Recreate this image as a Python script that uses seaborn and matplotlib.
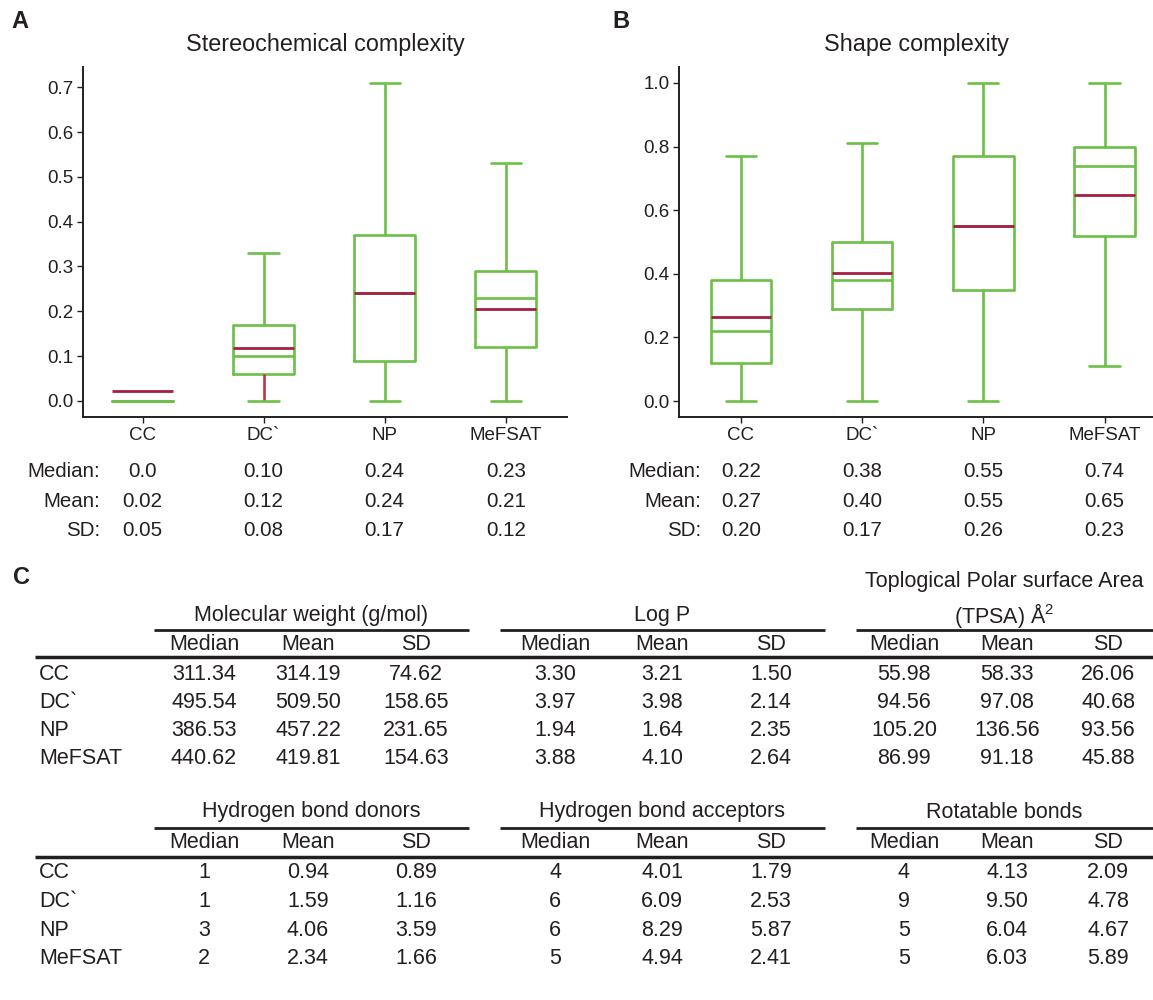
import matplotlib
matplotlib.use("Agg")
import matplotlib.pyplot as plt
import matplotlib.transforms as mtrans
import seaborn as sns
import pandas as pd

# ---- data ----
groups = ["CC", "DC`", "NP", "MeFSAT"]

# A: stereochemical complexity (box stats)
stereo_lo = [0.0, 0.0, 0.0, 0.0]
stereo_q1 = [0.0, 0.06, 0.09, 0.12]
stereo_med = [0.0, 0.10, 0.24, 0.23]
stereo_q3 = [0.0, 0.17, 0.37, 0.29]
stereo_hi = [0.0, 0.33, 0.71, 0.53]
stereo_mean = [0.022, 0.119, 0.241, 0.206]
stereo_txt_median = ["0.0", "0.10", "0.24", "0.23"]
stereo_txt_mean = ["0.02", "0.12", "0.24", "0.21"]
stereo_txt_sd = ["0.05", "0.08", "0.17", "0.12"]

# B: shape complexity
shape_lo = [0.0, 0.0, 0.0, 0.11]
shape_q1 = [0.12, 0.29, 0.35, 0.52]
shape_med = [0.22, 0.38, 0.55, 0.74]
shape_q3 = [0.38, 0.50, 0.77, 0.80]
shape_hi = [0.77, 0.81, 1.0, 1.0]
shape_mean = [0.265, 0.403, 0.549, 0.647]
shape_txt_median = ["0.22", "0.38", "0.55", "0.74"]
shape_txt_mean = ["0.27", "0.40", "0.55", "0.65"]
shape_txt_sd = ["0.20", "0.17", "0.26", "0.23"]

# C: descriptor table
mw_median = [311.34, 495.54, 386.53, 440.62]
mw_mean = [314.19, 509.50, 457.22, 419.81]
mw_sd = [74.62, 158.65, 231.65, 154.63]
logp_median = [3.30, 3.97, 1.94, 3.88]
logp_mean = [3.21, 3.98, 1.64, 4.10]
logp_sd = [1.50, 2.14, 2.35, 2.64]
tpsa_median = [55.98, 94.56, 105.20, 86.99]
tpsa_mean = [58.33, 97.08, 136.56, 91.18]
tpsa_sd = [26.06, 40.68, 93.56, 45.88]
hbd_median = [1, 1, 3, 2]
hbd_mean = [0.94, 1.59, 4.06, 2.34]
hbd_sd = [0.89, 1.16, 3.59, 1.66]
hba_median = [4, 6, 6, 5]
hba_mean = [4.01, 6.09, 8.29, 4.94]
hba_sd = [1.79, 2.53, 5.87, 2.41]
rot_median = [4, 9, 5, 5]
rot_mean = [4.13, 9.50, 6.04, 6.03]
rot_sd = [2.09, 4.78, 4.67, 5.89]

# ---- style ----
GREEN = "#6cbf47"
RED = "#a51f43"
WRED = "#c4343d"
INK = "#231f20"
W, H = 1153, 1000

sns.set_style("ticks")
plt.rcParams["font.family"] = ["Liberation Sans", "DejaVu Sans"]
plt.rcParams["mathtext.default"] = "regular"
plt.rcParams["text.color"] = INK

fig = plt.figure(figsize=(W / 100, H / 100), dpi=100)


def fx(px):
    return px / W


def fy(py):
    return 1 - py / H


def box_panel(rect, lo, q1, med, q3, hi, mean, title, ylim, yticks, xlim, red_whisker=None):
    ax = fig.add_axes(rect)
    df = pd.DataFrame({
        "group": [g for g in groups for _ in range(5)],
        "value": [v for i in range(len(groups)) for v in (lo[i], q1[i], med[i], q3[i], hi[i])],
    })
    sns.boxplot(data=df, x="group", y="value", order=groups, ax=ax, width=0.5,
                whis=(0, 100), fill=False, color=GREEN, saturation=1,
                linewidth=1.9, showfliers=False)
    if red_whisker is not None:
        i = red_whisker
        for ln in ax.lines:
            xs, ys = ln.get_xdata(), ln.get_ydata()
            if len(xs) == 2 and xs[0] == i and xs[1] == i and min(ys) == lo[i] and max(ys) == q1[i]:
                ln.set_color(WRED)
    pos = list(range(len(groups)))
    ax.hlines(mean, [p - 0.25 for p in pos], [p + 0.25 for p in pos],
              colors=RED, lw=2.0, zorder=5)
    ax.set_xlim(*xlim)
    ax.set_ylim(*ylim)
    ax.set_yticks(yticks)
    ax.set_yticklabels([f"{t:.1f}" for t in yticks])
    ax.set_xlabel("")
    ax.set_ylabel("")
    ax.set_title(title, fontsize=16.8, pad=11, color=INK)
    sns.despine(ax=ax)
    for s in ("left", "bottom"):
        ax.spines[s].set_linewidth(1.4)
        ax.spines[s].set_color(INK)
    ax.tick_params(axis="both", labelsize=13.5, length=4, width=1, colors=INK, pad=3)
    return ax


axA = box_panel([fx(83.2), fy(417), fx(567) - fx(83.2), (417 - 66.7) / H],
                stereo_lo, stereo_q1, stereo_med, stereo_q3, stereo_hi, stereo_mean,
                "Stereochemical complexity", (-0.036, 0.746),
                [0.0, 0.1, 0.2, 0.3, 0.4, 0.5, 0.6, 0.7], (-0.49, 3.506), red_whisker=1)
axB = box_panel([fx(679.4), fy(417), fx(1153) - fx(679.4), (417 - 66.7) / H],
                shape_lo, shape_q1, shape_med, shape_q3, shape_hi, shape_mean,
                "Shape complexity", (-0.05, 1.051),
                [0.0, 0.2, 0.4, 0.6, 0.8, 1.0], (-0.507, 3.40))

# summary text under the box plots
row_y = [471.5, 501.5, 530.5]
row_names = ["Median:", "Mean:", "SD:"]
for ax, lab_x, rows in ((axA, 100, (stereo_txt_median, stereo_txt_mean, stereo_txt_sd)),
                        (axB, 701, (shape_txt_median, shape_txt_mean, shape_txt_sd))):
    tr = mtrans.blended_transform_factory(ax.transData, fig.transFigure)
    for y, name, vals in zip(row_y, row_names, rows):
        fig.text(fx(lab_x), fy(y), name, ha="right", va="center", fontsize=14.8)
        for i, v in enumerate(vals):
            ax.text(i, fy(y), v, transform=tr, ha="center", va="center", fontsize=14.8,
                    clip_on=False)

# panel letters
for lab, x, y in (("A", 20, 22), ("B", 621, 22), ("C", 22, 577)):
    fig.text(fx(x), fy(y), lab, ha="center", va="center", fontsize=17, fontweight="bold")

# ---- table C ----
tab = fig.add_axes([0, 0, 1, 1])
tab.set_xlim(0, W)
tab.set_ylim(H, 0)
tab.axis("off")

g_start = [153.5, 499.5, 855.5]
g_end = [469, 825, 1153]
col_x = [[204, 308, 416], [555, 662, 771], [904, 1007, 1108]]
FS = 15.5


def fmt(v):
    return str(v) if isinstance(v, int) else f"{v:.2f}"


def table_block(blocks, y_title, y_thin, y_sub, y_thick, y_rows):
    for k, (title, med, mean, sd) in enumerate(blocks):
        cx = (g_start[k] + g_end[k]) / 2
        tab.text(cx, y_title, title, ha="center", va="center", fontsize=FS)
        tab.plot([g_start[k], g_end[k]], [y_thin, y_thin], color=INK, lw=2.0,
                 solid_capstyle="butt")
        for c, head in enumerate(["Median", "Mean", "SD"]):
            tab.text(col_x[k][c], y_sub, head, ha="center", va="center", fontsize=FS)
        for r in range(len(groups)):
            for c, vals in enumerate((med, mean, sd)):
                tab.text(col_x[k][c], y_rows[r], fmt(vals[r]), ha="center", va="center",
                         fontsize=FS)
    tab.plot([35, W], [y_thick, y_thick], color=INK, lw=2.5, solid_capstyle="butt")
    for r, g in enumerate(groups):
        tab.text(39, y_rows[r], g, ha="left", va="center", fontsize=FS)


table_block([("Molecular weight (g/mol)", mw_median, mw_mean, mw_sd),
             ("Log P", logp_median, logp_mean, logp_sd),
             ("(TPSA) Å$^{2}$", tpsa_median, tpsa_mean, tpsa_sd)],
            616, 630, 645, 657, [674, 702.5, 731, 759])
tab.text((g_start[2] + g_end[2]) / 2, 582, "Toplogical Polar surface Area",
         ha="center", va="center", fontsize=FS)

table_block([("Hydrogen bond donors", hbd_median, hbd_mean, hbd_sd),
             ("Hydrogen bond acceptors", hba_median, hba_mean, hba_sd),
             ("Rotatable bonds", rot_median, rot_mean, rot_sd)],
            812, 828, 843, 857, [873, 901.5, 930, 958])

fig.savefig("out.png", dpi=100)
